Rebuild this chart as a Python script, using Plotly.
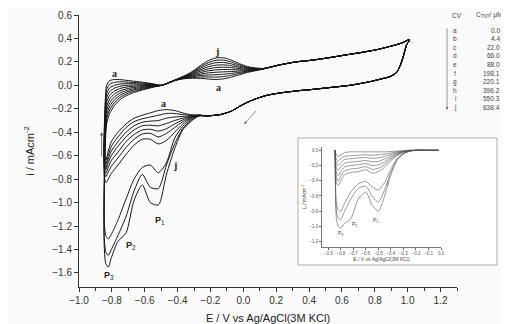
import plotly.graph_objects as go

CURVE_IDS = ['a', 'b', 'c', 'd', 'e', 'f', 'g', 'h', 'i', 'j']
CONC = ['0.0', '4.4', '22.0', '66.0', '88.0', '198.1', '220.1', '396.2', '550.3', '638.4']

# cathodic scan, part shared by all CVs (from +1.01 V down to -0.22 V)
LOW_E = [1.011, 0.992, 0.972, 0.952, 0.933, 0.893, 0.854, 0.765, 0.647, 0.518,
         0.420, 0.341, 0.223, 0.144, 0.075, 0.025, -0.024, -0.073, -0.142, -0.221]
LOW_I = [0.39, 0.34, 0.24, 0.16, 0.11, 0.075, 0.06, 0.03, 0.0, -0.02,
         -0.035, -0.045, -0.065, -0.085, -0.115, -0.145, -0.18, -0.22, -0.25, -0.26]

# cathodic scan, part that differs between CVs
DIV_LOW_E = [-0.270, -0.320, -0.369, -0.418, -0.468, -0.517, -0.566, -0.615,
             -0.665, -0.714, -0.763, -0.803, -0.822, -0.837]
DIV_LOW_I = {
    'a': [-0.255, -0.25, -0.235, -0.215, -0.207, -0.215, -0.235, -0.255, -0.28, -0.33, -0.40, -0.48, -0.56, -0.64],
    'b': [-0.255, -0.255, -0.25, -0.24, -0.24, -0.255, -0.27, -0.285, -0.31, -0.36, -0.44, -0.52, -0.60, -0.67],
    'c': [-0.255, -0.26, -0.265, -0.27, -0.28, -0.30, -0.305, -0.315, -0.345, -0.40, -0.48, -0.56, -0.63, -0.70],
    'd': [-0.255, -0.265, -0.28, -0.30, -0.325, -0.345, -0.34, -0.345, -0.38, -0.44, -0.52, -0.60, -0.66, -0.72],
    'e': [-0.255, -0.27, -0.295, -0.33, -0.37, -0.39, -0.375, -0.38, -0.42, -0.48, -0.57, -0.64, -0.70, -0.75],
    'f': [-0.255, -0.275, -0.31, -0.36, -0.41, -0.44, -0.41, -0.415, -0.46, -0.53, -0.62, -0.69, -0.74, -0.78],
    'g': [-0.26, -0.28, -0.33, -0.40, -0.47, -0.50, -0.46, -0.46, -0.51, -0.59, -0.68, -0.75, -0.80, -0.83],
    'h': [-0.26, -0.29, -0.35, -0.45, -0.66, -0.745, -0.68, -0.70, -0.80, -0.97, -1.15, -1.27, -1.31, -1.28],
    'i': [-0.26, -0.30, -0.37, -0.50, -0.68, -0.88, -0.87, -0.76, -0.90, -1.12, -1.28, -1.40, -1.45, -1.42],
    'j': [-0.26, -0.31, -0.38, -0.54, -0.76, -1.02, -1.00, -0.85, -0.98, -1.26, -1.33, -1.47, -1.55, -1.52],
}

# anodic scan, part that differs between CVs (from -0.85 V up to +0.12 V)
DIV_UP_E = [-0.847, -0.842, -0.832, -0.813, -0.783, -0.744, -0.684, -0.615, -0.546, -0.497,
            -0.418, -0.369, -0.320, -0.270, -0.221, -0.172, -0.122, -0.073, -0.024, 0.025, 0.075, 0.124]
DIV_UP_I = {
    'a': [-0.55, -0.20, 0.000, 0.040, 0.050, 0.048, 0.038, 0.027, 0.012, 0.0,
          0.040, 0.055, 0.060, 0.060, 0.055, 0.050, 0.055, 0.070, 0.090, 0.110, 0.125, 0.140],
    'b': [-0.60, -0.24, -0.037, 0.009, 0.026, 0.030, 0.026, 0.020, 0.009, 0.0,
          0.041, 0.057, 0.066, 0.071, 0.072, 0.070, 0.075, 0.086, 0.101, 0.116, 0.128, 0.141],
    'c': [-0.63, -0.29, -0.073, -0.022, 0.001, 0.012, 0.014, 0.012, 0.006, 0.0,
          0.041, 0.059, 0.071, 0.082, 0.088, 0.090, 0.095, 0.102, 0.111, 0.121, 0.130, 0.141],
    'd': [-0.65, -0.33, -0.110, -0.053, -0.023, -0.006, 0.002, 0.005, 0.003, 0.0,
          0.042, 0.062, 0.077, 0.093, 0.105, 0.111, 0.115, 0.118, 0.122, 0.127, 0.133, 0.142],
    'e': [-0.68, -0.38, -0.147, -0.084, -0.048, -0.024, -0.010, -0.003, 0.000, 0.0,
          0.042, 0.064, 0.082, 0.104, 0.122, 0.131, 0.135, 0.134, 0.132, 0.132, 0.135, 0.142],
    'f': [-0.71, -0.42, -0.183, -0.116, -0.072, -0.043, -0.022, -0.010, -0.003, 0.0,
          0.043, 0.066, 0.088, 0.116, 0.138, 0.151, 0.155, 0.151, 0.143, 0.138, 0.138, 0.143],
    'g': [-0.76, -0.47, -0.220, -0.147, -0.097, -0.061, -0.034, -0.018, -0.006, 0.0,
          0.043, 0.068, 0.093, 0.127, 0.155, 0.171, 0.175, 0.167, 0.153, 0.143, 0.140, 0.143],
    'h': [-1.15, -0.51, -0.257, -0.178, -0.121, -0.079, -0.046, -0.025, -0.009, 0.0,
          0.044, 0.071, 0.099, 0.138, 0.172, 0.192, 0.195, 0.183, 0.164, 0.149, 0.143, 0.144],
    'i': [-1.28, -0.56, -0.293, -0.209, -0.146, -0.097, -0.058, -0.033, -0.012, 0.0,
          0.044, 0.073, 0.104, 0.149, 0.188, 0.212, 0.215, 0.199, 0.174, 0.154, 0.145, 0.144],
    'j': [-1.35, -0.60, -0.330, -0.240, -0.170, -0.115, -0.070, -0.040, -0.015, 0.0,
          0.045, 0.075, 0.110, 0.160, 0.205, 0.232, 0.235, 0.215, 0.185, 0.160, 0.148, 0.145],
}

# anodic scan, part shared by all CVs (up to the +1.01 V vertex)
UP_E = [0.223, 0.321, 0.420, 0.518, 0.617, 0.716, 0.814, 0.913, 0.962, 1.011]
UP_I = [0.175, 0.200, 0.215, 0.235, 0.258, 0.280, 0.305, 0.340, 0.360, 0.390]

# inset: cathodic currents
INSET_E = [-0.845, -0.835, -0.82, -0.80, -0.77, -0.72, -0.66, -0.60, -0.55, -0.50,
           -0.45, -0.40, -0.35, -0.30, -0.25, -0.20, -0.10, -0.02]
INSET_I = {
    'a': [0.0, -0.06, -0.08, -0.06, -0.03, -0.02, -0.02, -0.02, -0.02, -0.02, -0.02, -0.015, -0.01, -0.005, 0.0, 0.0, 0.0, 0.0],
    'b': [0.0, -0.12, -0.14, -0.11, -0.08, -0.07, -0.065, -0.06, -0.065, -0.06, -0.05, -0.035, -0.02, -0.01, 0.0, 0.0, 0.0, 0.0],
    'c': [0.0, -0.18, -0.20, -0.16, -0.12, -0.11, -0.10, -0.095, -0.105, -0.10, -0.08, -0.055, -0.03, -0.012, 0.0, 0.0, 0.0, 0.0],
    'd': [0.0, -0.24, -0.26, -0.22, -0.17, -0.155, -0.145, -0.135, -0.15, -0.145, -0.115, -0.075, -0.04, -0.015, -0.003, 0.0, 0.0, 0.0],
    'e': [0.0, -0.30, -0.33, -0.28, -0.22, -0.20, -0.19, -0.175, -0.20, -0.19, -0.15, -0.095, -0.05, -0.018, -0.005, 0.0, 0.0, 0.0],
    'f': [0.0, -0.36, -0.40, -0.34, -0.27, -0.245, -0.235, -0.215, -0.25, -0.235, -0.185, -0.115, -0.06, -0.022, -0.006, 0.0, 0.0, 0.0],
    'g': [0.0, -0.42, -0.46, -0.40, -0.32, -0.29, -0.28, -0.255, -0.30, -0.28, -0.22, -0.135, -0.07, -0.026, -0.007, 0.0, 0.0, 0.0],
    'h': [0.0, -0.70, -0.78, -0.80, -0.70, -0.55, -0.44, -0.41, -0.48, -0.52, -0.42, -0.25, -0.11, -0.04, -0.01, 0.0, 0.0, 0.0],
    'i': [0.0, -0.80, -0.89, -0.91, -0.80, -0.64, -0.50, -0.47, -0.60, -0.68, -0.52, -0.29, -0.12, -0.045, -0.012, 0.0, 0.0, 0.0],
    'j': [0.0, -0.90, -1.00, -1.02, -0.96, -0.90, -0.64, -0.55, -0.72, -0.80, -0.60, -0.32, -0.13, -0.05, -0.013, 0.0, 0.0, 0.0],
}

# peak / curve labels (text, E, i)
MAIN_LABELS = [('a', -0.781, 0.10), ('j', -0.162, 0.285), ('a', -0.154, -0.02),
               ('a', -0.483, -0.155), ('j', -0.415, -0.68)]
PEAK_LABELS = [('1', -0.505, -1.15), ('2', -0.685, -1.37), ('3', -0.815, -1.62)]
INSET_LABELS = [('P<sub>1</sub>', -0.52, -0.92), ('P<sub>2</sub>', -0.69, -0.97),
                ('P<sub>3</sub>', -0.80, -1.09), ('j', -0.43, -0.42)]

# the page places the figure 8 px in from the top-left corner
OFF = 8
W, H = 509 - OFF, 324 - OFF
ML, MR, MT, MB = 79 - OFF, 52, 15 - OFF, 37
PW, PH = W - ML - MR, H - MT - MB


def px(xp):
    return (xp - OFF - ML) / PW


def py(yp):
    return (H - MB - (yp - OFF)) / PH


fig = go.Figure()

for cid in CURVE_IDS:
    xs = LOW_E + DIV_LOW_E + DIV_UP_E + UP_E
    ys = LOW_I + DIV_LOW_I[cid] + DIV_UP_I[cid] + UP_I
    fig.add_trace(go.Scatter(x=xs, y=ys, mode='lines', name=cid,
                             line=dict(color='#151515', width=1, shape='spline', smoothing=0.7),
                             hoverinfo='skip', showlegend=False))

for cid in CURVE_IDS:
    fig.add_trace(go.Scatter(x=INSET_E, y=INSET_I[cid], mode='lines', name='inset ' + cid,
                             xaxis='x2', yaxis='y2',
                             line=dict(color='#555555', width=0.6, shape='spline', smoothing=0.7),
                             hoverinfo='skip', showlegend=False))

annotations = []
for txt, ex, iy in MAIN_LABELS:
    annotations.append(dict(x=ex, y=iy, xref='x', yref='y', text='<b>%s</b>' % txt, showarrow=False,
                            xanchor='center', yanchor='middle',
                            font=dict(family='Liberation Serif', size=10, color='#222')))
for sub, ex, iy in PEAK_LABELS:
    annotations.append(dict(x=ex, y=iy, xref='x', yref='y', text='<b>P</b><sub>%s</sub>' % sub,
                            xanchor='center', yanchor='middle',
                            showarrow=False, font=dict(family='Liberation Sans', size=9, color='#222')))
for txt, ex, iy in INSET_LABELS:
    annotations.append(dict(x=ex, y=iy, xref='x2', yref='y2', text=txt, showarrow=False,
                            xanchor='center', yanchor='middle',
                            font=dict(family='Liberation Sans', size=5, color='#444')))

# scan direction arrows
annotations.append(dict(x=-0.862, y=-0.40, ax=-0.862, ay=-0.62, xref='x', yref='y', axref='x', ayref='y',
                        text='', showarrow=True, arrowhead=2, arrowsize=0.8, arrowwidth=0.8, arrowcolor='#555'))
annotations.append(dict(x=0.005, y=-0.33, ax=0.085, ay=-0.205, xref='x', yref='y', axref='x', ayref='y',
                        text='', showarrow=True, arrowhead=2, arrowsize=0.8, arrowwidth=0.7, arrowcolor='#666'))

# concentration table (top right)
tab_font = dict(family='Liberation Sans', size=6.5, color='#444')
annotations.append(dict(x=px(457), y=py(15), xref='paper', yref='paper', text='CV', showarrow=False,
                        xanchor='center', yanchor='middle', font=tab_font))
annotations.append(dict(x=px(489), y=py(15), xref='paper', yref='paper', text='C<sub>TNT</sub>/ μM',
                        xanchor='center', yanchor='middle', showarrow=False, font=tab_font))
for r, (cid, conc) in enumerate(zip(CURVE_IDS, CONC)):
    yrow = 30 + r * 8.6
    annotations.append(dict(x=px(455), y=py(yrow), xref='paper', yref='paper', text=cid, showarrow=False,
                            xanchor='center', yanchor='middle', font=tab_font))
    annotations.append(dict(x=px(502), y=py(yrow), xref='paper', yref='paper', text=conc, showarrow=False,
                            xanchor='right', yanchor='middle', font=tab_font))
annotations.append(dict(x=px(447), y=py(110), ax=0, ay=-83, xref='paper', yref='paper',
                        axref='pixel', ayref='pixel', text='', showarrow=True, arrowhead=2,
                        arrowsize=0.8, arrowwidth=0.7, arrowcolor='#666'))

shapes = [dict(type='rect', xref='paper', yref='paper', x0=px(298), x1=px(497), y0=py(265), y1=py(138),
               fillcolor='white', line=dict(color='#9a9a9a', width=0.8), layer='below')]

axis_font = dict(family='Liberation Sans', size=10, color='#333')
fig.update_layout(
    width=W, height=H,
    margin=dict(l=ML, r=MR, t=MT, b=MB, autoexpand=False),
    paper_bgcolor='#fafafa', plot_bgcolor='rgba(0,0,0,0)',
    showlegend=False,
    annotations=annotations, shapes=shapes,
    xaxis=dict(range=[-1.0, 1.3], domain=[0, 1], anchor='y', tickmode='array', automargin=False,
               tickvals=[-1.0, -0.8, -0.6, -0.4, -0.2, 0.0, 0.2, 0.4, 0.6, 0.8, 1.0, 1.2],
               tickformat='.1f', ticks='outside', ticklen=4, tickwidth=1, tickcolor='#333',
               minor=dict(dtick=0.1, tick0=0, ticks='outside', ticklen=3, tickcolor='#333'),
               showline=True, linecolor='#333', linewidth=1, showgrid=False, zeroline=False,
               tickfont=axis_font,
               title=dict(text='E / V vs Ag/AgCl(3M KCl)', font=dict(family='Liberation Sans', size=11, color='#222'),
                          standoff=12)),
    yaxis=dict(range=[-1.72, 0.6], domain=[0, 1], anchor='x', tickmode='array', automargin=False,
               tickvals=[-1.6, -1.4, -1.2, -1.0, -0.8, -0.6, -0.4, -0.2, 0.0, 0.2, 0.4, 0.6],
               tickformat='.1f', ticks='outside', ticklen=4, tickwidth=1, tickcolor='#333',
               showline=True, linecolor='#333', linewidth=1, showgrid=False, zeroline=False,
               tickfont=axis_font,
               title=dict(text='i / mAcm<sup>-2</sup>', font=dict(family='Liberation Sans', size=11, color='#222'),
                          standoff=15)),
    xaxis2=dict(range=[-0.95, 0.0], domain=[px(322), px(441)], anchor='y2', dtick=0.1, tick0=0,
                automargin=False,
                tickformat='.1f', ticks='outside', ticklen=2, tickwidth=0.6, tickcolor='#666',
                showline=True, linecolor='#777', linewidth=0.6, showgrid=False, zeroline=False,
                tickfont=dict(family='Liberation Sans', size=4.5, color='#555'),
                title=dict(text='E / V vs Ag/AgCl(3M KCl)', font=dict(family='Liberation Sans', size=5, color='#444'),
                           standoff=1)),
    yaxis2=dict(range=[-1.27, 0.05], domain=[py(247), py(146.5)], anchor='x2', dtick=0.2, tick0=0,
                automargin=False,
                tickformat='.1f', ticks='outside', ticklen=2, tickwidth=0.6, tickcolor='#666',
                showline=True, linecolor='#777', linewidth=0.6, showgrid=False, zeroline=False,
                tickfont=dict(family='Liberation Sans', size=4.5, color='#555'),
                title=dict(text='i<sub>c</sub> / mAcm<sup>-2</sup>', font=dict(family='Liberation Sans', size=5, color='#444'),
                           standoff=2)),
)

fig.write_html('out.html')
